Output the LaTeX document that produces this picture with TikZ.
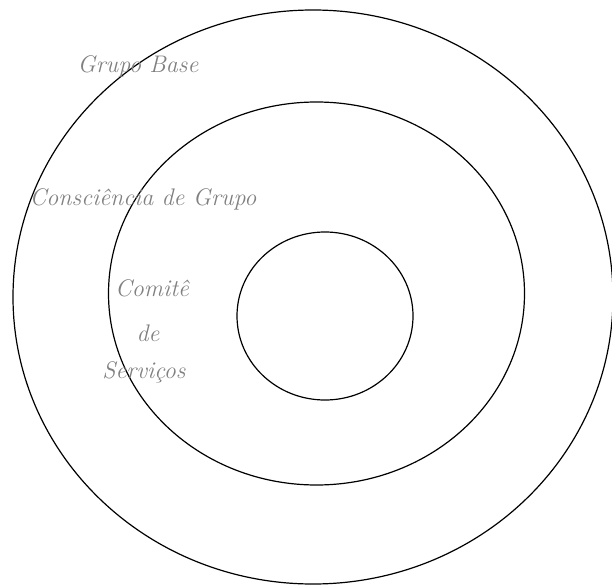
\documentclass[tikz,border=0pt]{standalone}
\usepackage{fontspec}
\usepackage{tikz}
\definecolor{lblgray}{RGB}{128,128,128}

\begin{document}
\begin{tikzpicture}[
  x=1pt,y=-1pt,
  ring/.style={draw=black,line width=1.2pt},
  lbl/.style={font=\fontsize{24}{28}\selectfont\itshape,color=lblgray,inner sep=0pt,align=center}]

  \useasboundingbox (0,0) rectangle (612,585);
  \clip (0,0) rectangle (612,585);

  % three circles of service
  \draw[ring] (313,297) ellipse [x radius=300,y radius=287];
  \draw[ring] (316.5,293.5) ellipse [x radius=208,y radius=191.5];
  \draw[ring] (325,316) ellipse [x radius=88,y radius=84];

  \node[lbl] (base) at (138,66) {Grupo Base};
  \node[lbl] (consc) at (143,199) {Consciência de Grupo};
  \node[lbl] (comite) at (152,288) {Comitê};
  \node[lbl] (de) at (148,333) {de};
  \node[lbl] (serv) at (144,372) {Serviços};
\end{tikzpicture}
\end{document}
